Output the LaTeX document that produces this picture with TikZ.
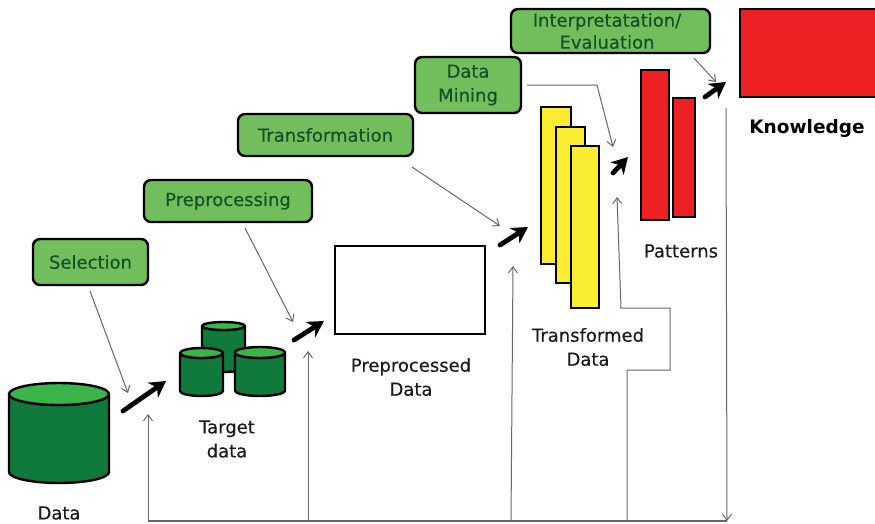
\documentclass[tikz,border=0pt]{standalone}
\usepackage{fontspec}
\setmainfont{DejaVu Sans}[FakeBold=0.35,BoldFeatures={FakeBold=0}]
\usetikzlibrary{arrows.meta}
\definecolor{boxgreen}{HTML}{72BE5C}
\definecolor{boxtext}{HTML}{174F26}
\definecolor{cylbody}{HTML}{0F7A3C}
\definecolor{cyltop}{HTML}{3AB54A}
\definecolor{barred}{HTML}{ED2024}
\definecolor{baryellow}{HTML}{F9EC31}
\definecolor{thinline}{HTML}{666666}
\definecolor{labeltext}{HTML}{1A1A1A}
\tikzset{
  stepbox/.style={draw=black,line width=2.4pt,rounded corners=7pt,fill=boxgreen,text=boxtext,inner sep=0pt,align=center,font=\fontsize{18}{22}\selectfont},
  cylline/.style={draw=black,line width=2.4pt,line join=round},
  bar/.style={draw=black,line width=2.4pt,inner sep=0pt},
  caption/.style={text=labeltext,align=center,inner sep=0pt,font=\fontsize{18}{24}\selectfont},
  bigarrow/.style={line width=4.8pt,line cap=round,black,-{Stealth[length=16pt,width=18pt,inset=5pt]}},
  thinarrow/.style={line width=1pt,thinline,-{Straight Barb[length=6pt,width=9pt]}},
  thinplain/.style={line width=1.2pt,thinline}
}
% #1 left, #2 top, #3 right, #4 bottom, #5 vertical radius of the ends
\newcommand{\drawcyl}[5]{%
  \path[cylline,fill=cylbody] (#1,#2+#5)
    arc[start angle=180,end angle=0,x radius={(#3-#1)/2},y radius=#5] -- (#3,#4-#5)
    arc[start angle=0,end angle=-180,x radius={(#3-#1)/2},y radius=-#5] -- cycle;
  \path[cylline,fill=cyltop] ({(#1+#3)/2},#2+#5) ellipse[x radius={(#3-#1)/2},y radius=#5];
}
\begin{document}
\begin{tikzpicture}[x=1pt,y=-1pt]
\useasboundingbox (0,0) rectangle (875,523);
% cylinders
\drawcyl{9}{383}{109}{483}{11}
\drawcyl{202}{322}{245}{372}{4}
\drawcyl{180}{348}{223}{396}{5}
\drawcyl{235}{347}{285}{396}{5.5}
% rectangles
\node[bar,fill=white,minimum width=150pt,minimum height=88pt] (prep) at (410,290) {};
\node[bar,fill=baryellow,minimum width=30pt,minimum height=157pt] (ya) at (556,185.5) {};
\node[bar,fill=baryellow,minimum width=29pt,minimum height=156pt] (yb) at (570.5,205) {};
\node[bar,fill=baryellow,minimum width=28pt,minimum height=162pt] (yc) at (585,227) {};
\node[bar,fill=barred,minimum width=28pt,minimum height=150pt] (ra) at (655,145) {};
\node[bar,fill=barred,minimum width=22pt,minimum height=119pt] (rb) at (684,157.5) {};
\node[bar,fill=barred,minimum width=136pt,minimum height=88pt] (know) at (808,53) {};
% step boxes
\node[stepbox,minimum width=115pt,minimum height=46pt] (sel) at (90.5,262) {Selection};
\node[stepbox,minimum width=168pt,minimum height=42pt] (pre) at (228,201) {Preprocessing};
\node[stepbox,minimum width=175pt,minimum height=42pt] (tra) at (325.5,135) {Transformation};
\node[stepbox,minimum width=106pt,minimum height=56pt] (min) at (468,85) {Data\\[2pt]Mining};
\node[stepbox,minimum width=199pt,minimum height=44pt] (int) at (610.5,31) {};
\node[text=boxtext,align=center,inner sep=0pt,font=\fontsize{18}{22}\selectfont] (inttext) at (607,31) {Interpretatation/\\Evaluation};
% captions
\node[caption] (capdata) at (59,513) {Data};
\node[caption] (captarget) at (227,439) {Target\\data};
\node[caption] (capprep) at (411,377) {Preprocessed\\Data};
\node[caption] (captrans) at (588,347) {Transformed\\Data};
\node[caption] (cappat) at (681,251) {Patterns};
\node[caption,font=\bfseries\fontsize{18.5}{24}\selectfont,text=black] (capknow) at (807,128) {Knowledge};
% coordinates
\coordinate (a1s) at (123,411); \coordinate (a1e) at (166,381);
\coordinate (a2s) at (294,340); \coordinate (a2e) at (324,321);
\coordinate (a3s) at (500,245); \coordinate (a3e) at (528,227);
\coordinate (a4s) at (613,173); \coordinate (a4e) at (628,157);
\coordinate (a5s) at (705,97);  \coordinate (a5e) at (726,82);
\coordinate (t1s) at (90,291);  \coordinate (t1e) at (128,393);
\coordinate (t2s) at (245,228); \coordinate (t2e) at (293,322);
\coordinate (t3s) at (412,167); \coordinate (t3e) at (500,226);
\coordinate (t4s) at (527,85);  \coordinate (t4b) at (597,85); \coordinate (t4e) at (613,147);
\coordinate (t5s) at (694,58);  \coordinate (t5e) at (716,82);
\coordinate (bl) at (148,521); \coordinate (br) at (727,521);
\coordinate (u1e) at (148,414);
\coordinate (u2s) at (308,521); \coordinate (u2e) at (308,351);
\coordinate (u3s) at (511,521); \coordinate (u3e) at (513,266);
\coordinate (u4s) at (627,521); \coordinate (u4a) at (627,370); \coordinate (u4b) at (670,370); \coordinate (u4c) at (670,308); \coordinate (u4d) at (621,308); \coordinate (u4e) at (617,197);
\coordinate (dn) at (726,108);
% black arrows
\foreach \i in {1,...,5} \draw[bigarrow] (a\i s) -- (a\i e);
% thin arrows
\draw[thinarrow] (t1s) -- (t1e);
\draw[thinarrow] (t2s) -- (t2e);
\draw[thinarrow] (t3s) -- (t3e);
\draw[thinarrow] (t4s) -- (t4b) -- (t4e);
\draw[thinarrow] (t5s) -- (t5e);
% feedback lines
\draw[thinplain] (bl) -- (br);
\draw[thinarrow] (bl) -- (u1e);
\draw[thinarrow] (u2s) -- (u2e);
\draw[thinarrow] (u3s) -- (u3e);
\draw[thinarrow] (u4s) -- (u4a) -- (u4b) -- (u4c) -- (u4d) -- (u4e);
\draw[thinarrow] (dn) -- (br);
\end{tikzpicture}
\end{document}
